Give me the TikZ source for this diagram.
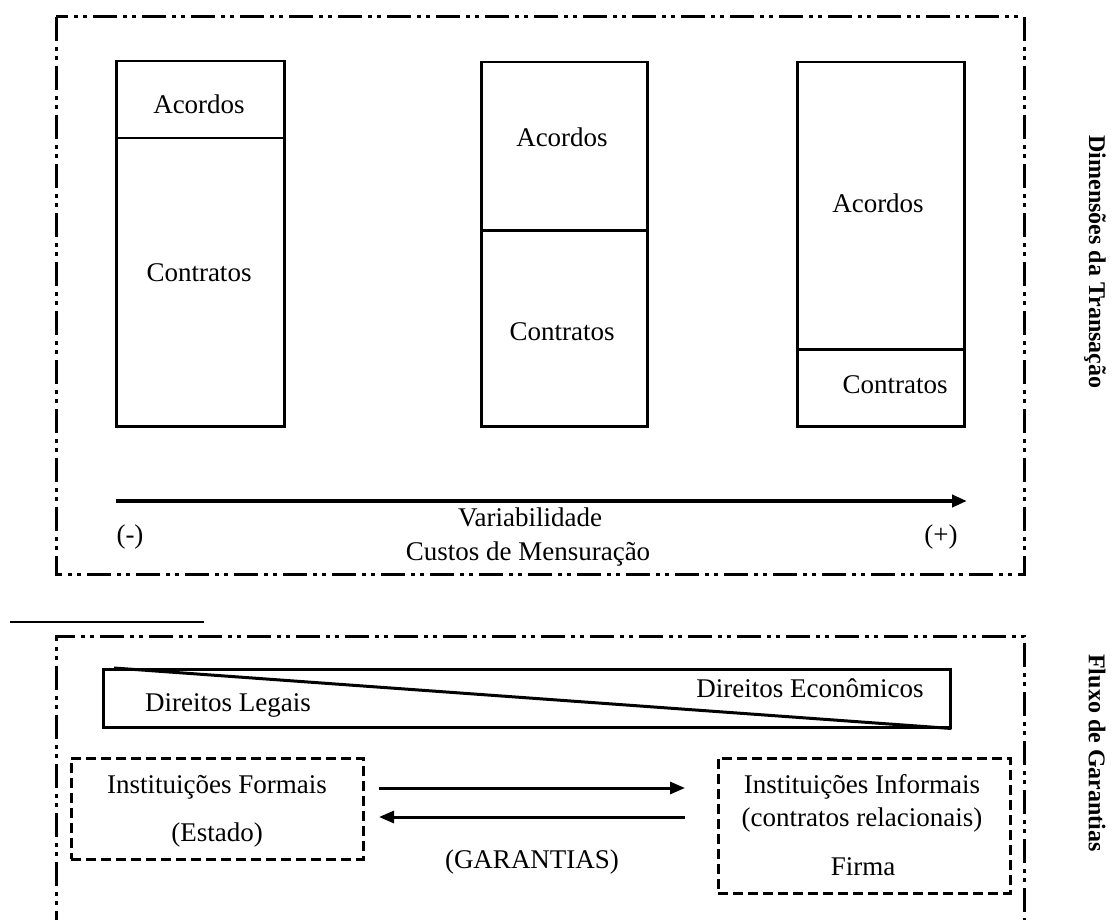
\documentclass[tikz,border=0pt]{standalone}
\usepackage{fontspec}
\setmainfont{Liberation Serif}
\usetikzlibrary{arrows.meta}
\begin{document}
\begin{tikzpicture}[x=1pt,y=-1pt,
  lbl/.style={font=\fontsize{27}{30}\selectfont, inner sep=0pt, anchor=center},
  bar/.style={draw, line width=2.5pt, inner sep=0pt, anchor=north west},
  dashdot/.style={line width=3pt, dash pattern=on 24pt off 6pt on 4pt off 5pt on 4pt off 6pt},
  dbox/.style={draw, line width=2.5pt, dash pattern=on 10pt off 5pt, inner sep=0pt, anchor=north west},
  tip/.style={-{Triangle[length=15pt,width=12pt]}},
  side/.style={font=\bfseries\fontsize{24}{28}\selectfont, rotate=-90, inner sep=0pt}]
\fill[white] (0,0) rectangle (1113,920);
\useasboundingbox (0,0) rectangle (1113,920);
\clip (0,0) rectangle (1113,920);

% upper frame
\draw[dashdot] (56,17) rectangle (1024,574);

% bars
\node[bar, minimum width=168pt, minimum height=77pt]  (b1a) at (115,60) {};
\node[bar, minimum width=168pt, minimum height=288pt] (b1b) at (115,137) {};
\node[bar, minimum width=166pt, minimum height=168pt] (b2a) at (480,61) {};
\node[bar, minimum width=166pt, minimum height=196pt] (b2b) at (480,229) {};
\node[bar, minimum width=167pt, minimum height=287pt] (b3a) at (796,61) {};
\node[bar, minimum width=167pt, minimum height=77pt]  (b3b) at (796,348) {};

\node[lbl] (t1a) at (199,104) {Acordos};
\node[lbl] (t1b) at (199,273) {Contratos};
\node[lbl] (t2a) at (562,137) {Acordos};
\node[lbl] (t2b) at (562,332) {Contratos};
\node[lbl] (t3a) at (878,203) {Acordos};
\node[lbl] (t3b) at (895,385) {Contratos};

% axis
\coordinate (vs) at (116,501);
\coordinate (ve) at (967,501);
\draw[tip, line width=4pt] (vs) -- (ve);
\node[lbl] (minus) at (130,537) {(-)};
\node[lbl] (plus) at (941,537) {(+)};
\node[lbl] (var) at (530,517) {Variabilidade};
\node[lbl] (cus) at (528,554) {Custos de Mensuração};

% separator
\coordinate (s1) at (10,622);
\coordinate (s2) at (204,622);
\draw[line width=2pt] (s1) -- (s2);

% lower frame
\draw[dashdot] (56,935) -- (56,636) -- (1024,636) -- (1024,935);

% rights bar
\node[bar, minimum width=847pt, minimum height=58pt] (dir) at (102,668) {};
\draw[line width=3pt] ([xshift=12pt]dir.north west) -- (dir.south east);
\node[lbl] (dl) at (228,705) {Direitos Legais};
\node[lbl] (de) at (810,688) {Direitos Econômicos};

% institutions
\node[dbox, minimum width=292pt, minimum height=101pt] (form) at (70,757) {};
\node[lbl] (f1) at (217,787) {Instituições Formais};
\node[lbl] (f2) at (217,835) {(Estado)};

\node[dbox, minimum width=292pt, minimum height=135pt] (inf) at (717,757) {};
\node[lbl] (i1) at (862,787) {Instituições Informais};
\node[lbl] (i2) at (862,820) {(contratos relacionais)};
\node[lbl] (i3) at (863,867) {Firma};

% guarantees arrows
\coordinate (g1) at (379,788);
\coordinate (g2) at (685,788);
\coordinate (g3) at (685,817);
\coordinate (g4) at (379,817);
\draw[tip, line width=3pt] (g1) -- (g2);
\draw[tip, line width=3pt] (g3) -- (g4);
\node[lbl] (gar) at (532,862) {(GARANTIAS)};

% side labels
\node[side] (dim) at (1095,262) {Dimensões da Transação};
\node[side] (flu) at (1097,753) {Fluxo de Garantias};
\end{tikzpicture}
\end{document}
